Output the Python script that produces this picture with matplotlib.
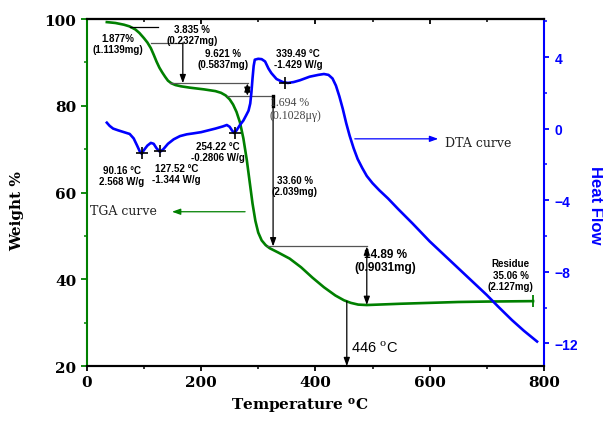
import matplotlib
matplotlib.use('Agg')
from matplotlib import pyplot as plt
from matplotlib.ticker import MultipleLocator

plt.rcParams['mathtext.fontset'] = 'dejavuserif'

# TGA curve: temperature (C) vs weight %
tga_temp = [35, 50, 65, 75, 85, 92, 100, 106, 112, 117, 122, 127, 132, 137, 142, 148, 155, 165, 180,
            205, 225, 235, 243, 250, 256, 262, 268, 274, 280, 285, 290, 295, 300, 306, 313, 320, 335,
            355, 375, 395, 415, 435, 450, 462, 475, 490, 510, 550, 600, 650, 700, 781]
tga_weight = [99.3, 99.1, 98.7, 98.3, 97.6, 96.8, 95.6, 94.6, 93.3, 91.8, 90.2, 88.8, 87.7, 86.7,
              85.8, 85.2, 84.8, 84.5, 84.2, 83.8, 83.4, 83.0, 82.4, 81.5, 80.3, 78.6, 76.2, 72.5,
              67.5, 62.5, 57.5, 53.5, 50.8, 49.0, 47.9, 47.2, 46.2, 44.8, 42.8, 40.4, 38.2, 36.3,
              35.2, 34.6, 34.2, 34.1, 34.2, 34.4, 34.6, 34.8, 34.9, 35.0]

# DTA curve: temperature (C) vs heat flow (W/g)
dta_temp = [35, 40, 46, 55, 65, 75, 82, 88, 93, 96, 100, 106, 112, 117, 122, 128, 134, 142, 152, 163,
            175, 186, 200, 210, 225, 238, 245, 250, 254, 258, 262, 268, 274, 279, 283, 286, 288, 290,
            292, 294, 300, 306, 312, 318, 323, 332, 343, 352, 362, 373, 390, 405, 415, 423, 430, 436,
            442, 448, 454, 460, 467, 474, 482, 490, 500, 512, 527, 545, 570, 600, 630, 660, 680, 700,
            720, 744, 765, 788]
dta_heat = [0.33, 0.15, 0.0, -0.1, -0.2, -0.3, -0.55, -0.95, -1.3, -1.4, -1.2, -0.95, -0.8, -0.85,
            -1.1, -1.3, -1.15, -0.85, -0.6, -0.42, -0.32, -0.27, -0.2, -0.12, 0.0, 0.12, 0.2, 0.1,
            -0.1, -0.25, -0.1, 0.2, 0.45, 0.75, 1.0, 1.4, 2.0, 2.8, 3.5, 3.85, 3.9, 3.88, 3.75, 3.35,
            3.1, 2.77, 2.6, 2.55, 2.6, 2.7, 2.9, 3.0, 3.05, 3.0, 2.8, 2.4, 1.8, 1.1, 0.3, -0.4, -1.1,
            -1.7, -2.2, -2.65, -3.05, -3.45, -3.9, -4.5, -5.3, -6.3, -7.2, -8.1, -8.7, -9.3, -9.95,
            -10.7, -11.3, -11.9]

# DTA peak markers
peak_temp = [96, 128, 259, 347]
peak_heat = [-1.35, -1.25, -0.25, 2.55]

green = '#008000'
blue = '#0000ff'
sans = 'Liberation Sans'
serif = 'DejaVu Serif'

fig = plt.figure(figsize=(6.03, 4.27), dpi=100)
ax = fig.add_axes([0.144, 0.14, 0.758, 0.813])
ax2 = ax.twinx()

ax.plot(tga_temp, tga_weight, color=green, lw=1.9)
ax.plot([781], [35.0], marker='|', color=green, ms=8, mew=1.3)
ax2.plot(dta_temp, dta_heat, color=blue, lw=1.9)
ax2.plot(peak_temp, peak_heat, '+', color='black', ms=9, mew=1.2)

ax.set_xlim(0, 800)
ax.set_ylim(20, 100)
ax2.set_ylim(-13.28, 6.12)

ax.xaxis.set_major_locator(MultipleLocator(200))
ax.xaxis.set_minor_locator(MultipleLocator(100))
ax.yaxis.set_major_locator(MultipleLocator(20))
ax.yaxis.set_minor_locator(MultipleLocator(10))
ax2.yaxis.set_major_locator(MultipleLocator(4))
ax2.yaxis.set_minor_locator(MultipleLocator(2))

for s in ['top', 'bottom']:
    ax.spines[s].set_linewidth(1.5)
    ax2.spines[s].set_linewidth(1.5)
ax.spines['left'].set_color(green)
ax.spines['left'].set_linewidth(1.5)
ax.spines['right'].set_visible(False)
ax2.spines['left'].set_visible(False)
ax2.spines['right'].set_color(blue)
ax2.spines['right'].set_linewidth(1.5)

ax.tick_params(axis='x', which='major', direction='out', length=3.5, width=1.3, pad=3)
ax.tick_params(axis='x', which='minor', direction='out', length=2, width=1.1)
ax.tick_params(axis='y', which='major', direction='out', length=4.5, width=1.3, color=green, pad=3)
ax.tick_params(axis='y', which='minor', direction='out', length=2.3, width=1.1, color=green)
ax2.tick_params(axis='y', which='major', direction='out', length=3.5, width=1.3, color=blue,
                labelcolor=blue, pad=4)
ax2.tick_params(axis='y', which='minor', direction='out', length=2, width=1.1, color=blue)

top = ax.secondary_xaxis('top')
top.xaxis.set_major_locator(MultipleLocator(200))
top.xaxis.set_minor_locator(MultipleLocator(100))
top.tick_params(which='major', direction='in', length=3.5, width=1.3, labeltop=False)
top.tick_params(which='minor', direction='in', length=2, width=1.1)
top.spines['top'].set_linewidth(1.5)

for lab in ax.get_xticklabels() + ax.get_yticklabels():
    lab.set_fontfamily(serif)
    lab.set_fontweight('bold')
    lab.set_fontsize(11)
for lab in ax2.get_yticklabels():
    lab.set_fontfamily(sans)
    lab.set_fontweight('bold')
    lab.set_fontsize(10)

ax.set_xlabel(r'Temperature $\mathbf{^{o}}$C', fontfamily=serif, fontweight='bold', fontsize=11)
ax.xaxis.set_label_coords(0.466, -0.085)
ax.set_ylabel('Weight %', fontfamily=serif, fontweight='bold', fontsize=11)
ax.yaxis.set_label_coords(-0.138, 0.45)
ax2.set_ylabel('Heat Flow', fontfamily=sans, fontweight='bold', fontsize=12, color=blue,
               rotation=270, ha='center', va='center')
ax2.yaxis.set_label_coords(1.112, 0.468)


def arrow(x0, y0, x1, y1, color='black', style='-|>', lw=0.9):
    ax.annotate('', xy=(x1, y1), xytext=(x0, y0),
                arrowprops=dict(arrowstyle=style + ',head_length=0.5,head_width=0.18',
                                color=color, lw=lw, shrinkA=0, shrinkB=0))


def hline(x0, x1, y, color='#555555'):
    ax.plot([x0, x1], [y, y], color=color, lw=0.9)


# step lines and arrows of the TGA analysis
hline(75, 124, 98.2, 'black')
hline(112, 168, 94.5)
arrow(168, 94.5, 168, 85.2)
hline(145, 282, 85.2)
arrow(281, 85.2, 281, 82.3, style='<|-|>')
hline(245, 327, 82.3)
ax.plot([326, 326], [82.3, 80.0], color='black', lw=2.4)
arrow(326, 80.0, 326, 47.6)
hline(315, 490, 47.6)
arrow(490, 47.6, 490, 34.1, style='<|-|>')
arrow(455, 35.0, 455, 20.0)

# curve pointers
arrow(277, 55.6, 149, 55.6, color=green)
ax.text(5, 55.8, 'TGA curve', fontfamily=serif, fontsize=9, color='#222222', ha='left', va='center')
arrow(469, 72.4, 615, 72.4, color=blue)
ax.text(627, 71.6, 'DTA curve', fontfamily=serif, fontsize=9, color='#222222', ha='left', va='center')


def note(x, y, s, size=7):
    ax.text(x, y, s, ha='center', va='center', fontsize=size, fontweight='bold',
            fontfamily=sans, linespacing=1.15)


note(54, 94.3, '1.877%\n(1.1139mg)')
note(184, 96.5, '3.835 %\n(0.2327mg)')
note(238, 91.0, '9.621 %\n(0.5837mg)')
note(370, 91.0, '339.49 \u00b0C\n-1.429 W/g')
note(230, 69.4, '254.22 \u00b0C\n-0.2806 W/g')
note(61, 64.0, '90.16 \u00b0C\n2.568 W/g')
note(157, 64.4, '127.52 \u00b0C\n-1.344 W/g')
note(364, 61.7, '33.60 %\n(2.039mg)')
note(523, 44.4, '14.89 %\n(0.9031mg)', size=8.5)
note(742, 41.1, 'Residue\n35.06 %\n(2.127mg)')
ax.text(320, 79.3, '1.694 %\n(0.1028\u03bc\u03b3)', ha='left', va='center', fontsize=8.5,
        fontfamily='Liberation Serif', color='#444444', linespacing=1.1)
ax.text(462, 24.4, r'446 $^{\rm o}$C', ha='left', va='center', fontsize=10.5, fontfamily=sans)

fig.savefig('out.png', dpi=100)
